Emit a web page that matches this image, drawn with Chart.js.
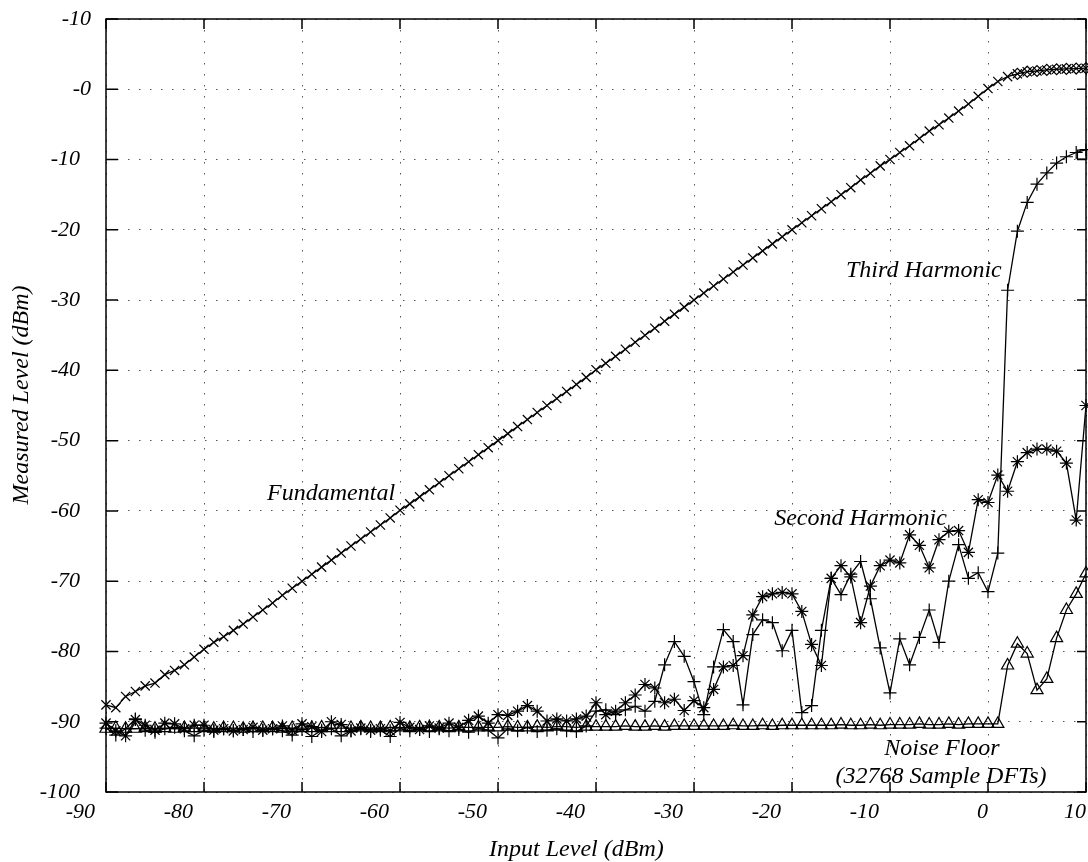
<!DOCTYPE html>
<html>
<head>
<meta charset="utf-8">
<title>Harmonic levels vs input level</title>
<script src="https://cdn.jsdelivr.net/npm/chart.js@4.4.1/dist/chart.umd.min.js"></script>
<style>
  html, body { margin: 0; padding: 0; background: #fff; }
  canvas { display: block; }
</style>
</head>
<body>
<canvas id="chart" width="1088" height="862"></canvas>
<script>
// Input level sweep in 1 dB steps (dBm)
const inputLevels = [
  -90, -89, -88, -87, -86, -85, -84, -83, -82, -81,
  -80, -79, -78, -77, -76, -75, -74, -73, -72, -71,
  -70, -69, -68, -67, -66, -65, -64, -63, -62, -61,
  -60, -59, -58, -57, -56, -55, -54, -53, -52, -51,
  -50, -49, -48, -47, -46, -45, -44, -43, -42, -41,
  -40, -39, -38, -37, -36, -35, -34, -33, -32, -31,
  -30, -29, -28, -27, -26, -25, -24, -23, -22, -21,
  -20, -19, -18, -17, -16, -15, -14, -13, -12, -11,
  -10, -9, -8, -7, -6, -5, -4, -3, -2, -1,
  0, 1, 2, 3, 4, 5, 6, 7, 8, 9,
  10
];

// Measured level of the fundamental (dBm)
const fundamental = [
  -87.6, -88.0, -86.4, -85.7, -84.9, -84.5, -83.3, -82.7, -81.9, -80.8,
  -79.7, -78.7, -77.9, -77.0, -76.1, -75.1, -74.1, -73.1, -72.0, -71.0,
  -70.0, -69.0, -68.0, -67.0, -66.0, -65.0, -64.0, -63.0, -62.0, -61.0,
  -59.9, -59.0, -58.0, -57.0, -56.0, -55.0, -54.0, -53.0, -52.0, -51.0,
  -50.0, -49.0, -48.0, -47.0, -46.0, -45.0, -44.0, -43.0, -42.0, -41.0,
  -39.9, -39.0, -38.0, -37.0, -36.0, -35.0, -34.0, -33.0, -32.0, -31.0,
  -30.0, -29.0, -28.0, -27.0, -26.0, -25.0, -24.0, -23.0, -22.0, -21.0,
  -20.0, -19.0, -18.0, -17.0, -16.0, -15.0, -14.0, -12.9, -11.95, -10.9,
  -10.0, -9.0, -8.05, -7.0, -5.95, -5.05, -4.1, -3.1, -2.1, -1.0,
  0.1, 1.1, 1.8, 2.2, 2.5, 2.6, 2.75, 2.85, 2.9, 2.95,
  3.0
];

// Measured level of the second harmonic (dBm)
const secondHarmonic = [
  -90.2, -91.3, -92.0, -89.7, -90.5, -91.2, -90.2, -90.3, -91.0, -90.5,
  -90.5, -91.2, -91.0, -91.3, -91.1, -90.8, -91.2, -91.0, -90.6, -91.2,
  -90.3, -90.7, -91.4, -90.0, -90.4, -91.3, -90.9, -91.2, -91.0, -91.3,
  -90.1, -90.8, -91.1, -90.6, -90.9, -90.2, -90.8, -89.8, -89.2, -90.2,
  -89.0, -89.1, -88.5, -87.7, -88.5, -89.9, -89.6, -89.9, -89.6, -89.2,
  -87.3, -89.0, -88.5, -87.3, -86.2, -84.7, -85.2, -87.3, -86.8, -88.4,
  -87.0, -88.0, -85.4, -82.2, -82.0, -80.6, -74.8, -72.2, -71.8, -71.6,
  -71.8, -74.3, -79.0, -82.0, -69.6, -67.8, -69.4, -75.9, -70.7, -67.8,
  -67.0, -67.4, -63.4, -64.9, -68.1, -64.1, -62.9, -62.8, -65.9, -58.4,
  -58.8, -54.9, -57.2, -53.0, -51.7, -51.2, -51.2, -51.5, -53.2, -61.3,
  -45.0
];

// Measured level of the third harmonic (dBm)
const thirdHarmonic = [
  -90.9, -91.9, -91.0, -89.6, -91.2, -91.5, -91.0, -90.8, -91.3, -92.0,
  -91.2, -91.4, -91.0, -91.3, -91.1, -91.4, -91.2, -91.0, -91.3, -91.9,
  -91.1, -92.1, -91.2, -91.0, -92.0, -91.3, -91.0, -91.4, -91.2, -92.1,
  -91.0, -91.3, -91.1, -91.4, -91.0, -91.3, -91.1, -91.5, -91.0, -91.2,
  -92.3, -91.0, -91.3, -90.8, -91.4, -91.2, -91.0, -91.3, -91.4, -90.6,
  -88.5, -88.3, -89.0, -88.3, -87.8, -88.5, -87.1, -81.9, -78.6, -80.7,
  -84.3, -89.0, -82.2, -76.9, -78.6, -87.6, -77.6, -75.5, -75.9, -79.9,
  -77.0, -88.7, -87.7, -77.0, -69.6, -71.9, -69.0, -67.2, -72.5, -79.5,
  -85.9, -78.2, -81.9, -78.0, -74.1, -78.7, -70.0, -64.8, -69.6, -68.8,
  -71.5, -66.0, -28.6, -20.2, -16.1, -13.5, -11.9, -10.5, -9.6, -9.0,
  -8.6
];

// Noise floor over the same sweep (dBm)
const noiseFloor = [
  -91.0, -90.9, -91.0, -91.0, -90.9, -91.0, -90.9, -91.0, -90.9, -90.9,
  -90.9, -91.0, -90.9, -90.9, -91.0, -90.9, -90.9, -90.9, -91.0, -90.9,
  -90.9, -90.9, -90.8, -90.9, -90.9, -90.9, -90.8, -90.9, -90.9, -90.8,
  -90.8, -90.9, -90.8, -90.8, -90.8, -90.9, -90.8, -90.8, -90.8, -90.8,
  -90.8, -90.7, -90.8, -90.8, -90.7, -90.8, -90.7, -90.7, -90.8, -90.7,
  -90.7, -90.7, -90.7, -90.6, -90.7, -90.7, -90.6, -90.7, -90.6, -90.6,
  -90.6, -90.6, -90.6, -90.6, -90.5, -90.6, -90.6, -90.5, -90.6, -90.5,
  -90.5, -90.5, -90.5, -90.5, -90.5, -90.4, -90.5, -90.5, -90.4, -90.5,
  -90.4, -90.4, -90.4, -90.3, -90.4, -90.4, -90.3, -90.4, -90.3, -90.3,
  -90.3, -90.3, -82.0, -78.9, -80.3, -85.5, -83.9, -78.1, -74.1, -71.8,
  -68.9
];

// Fundamental readings taken in compression are also flagged with diamonds
const compressionStart = 3;
// Final third-harmonic reading flagged with a box
const thirdHarmonicFinal = { level: 9.6, value: -9.3 };

// Axis tick labels
const xTickLabels = ['-90', '-80', '-70', '-60', '-50', '-40', '-30', '-20', '-10', '0', '10'];
const yTickLabels = ['-100', '-90', '-80', '-70', '-60', '-50', '-40', '-30', '-20', '-10', '-0', '-10'];

// Curve labels placed in data coordinates
const curveLabels = [
  { text: 'Fundamental', x: -60.5, y: -58.5, align: 'right' },
  { text: 'Third Harmonic', x: 1.4, y: -26.65, align: 'right' },
  { text: 'Second Harmonic', x: -4.2, y: -62.0, align: 'right' },
  { text: 'Noise Floor', x: -4.7, y: -94.8, align: 'center' },
  { text: '(32768 Sample DFTs)', x: -4.8, y: -98.7, align: 'center' }
];

const SERIF = '"Liberation Serif", "Times New Roman", serif';
// Negative tick labels sit a little further from their tick
const NEG_GAP = '\u2002';

const toPoints = (values) => inputLevels.map((x, i) => ({ x: x, y: values[i] }));

const seriesStyle = (style, radius) => ({
  borderColor: '#000',
  borderWidth: 1.3,
  pointStyle: style,
  pointRadius: radius,
  pointBorderColor: '#000',
  pointBackgroundColor: 'rgba(0,0,0,0)',
  pointBorderWidth: 1.2,
  pointHoverRadius: radius,
  tension: 0,
  fill: false,
  clip: false
});

const diamondPoints = toPoints(fundamental).filter(p => p.x >= compressionStart);

// Frame with inward ticks on all four sides, plus text labels
const framePlugin = {
  id: 'frame',
  afterDraw(chart) {
    const { ctx, chartArea: a, scales: { x, y } } = chart;
    ctx.save();
    ctx.strokeStyle = '#000';
    ctx.lineWidth = 1.5;
    ctx.strokeRect(a.left, a.top, a.right - a.left, a.bottom - a.top);
    ctx.beginPath();
    x.ticks.forEach(t => {
      const px = x.getPixelForValue(t.value);
      ctx.moveTo(px, a.bottom); ctx.lineTo(px, a.bottom - 10);
      ctx.moveTo(px, a.top); ctx.lineTo(px, a.top + 10);
    });
    y.ticks.forEach(t => {
      const py = y.getPixelForValue(t.value);
      ctx.moveTo(a.left, py); ctx.lineTo(a.left + 12, py);
      ctx.moveTo(a.right, py); ctx.lineTo(a.right - 9, py);
    });
    ctx.stroke();

    ctx.fillStyle = '#000';
    ctx.font = 'italic 24px ' + SERIF;
    ctx.textBaseline = 'alphabetic';
    curveLabels.forEach(l => {
      ctx.textAlign = l.align;
      ctx.fillText(l.text, x.getPixelForValue(l.x), y.getPixelForValue(l.y));
    });

    // Axis titles
    ctx.textAlign = 'center';
    ctx.fillText('Input Level (dBm)', x.getPixelForValue(-42), a.bottom + 64);
    ctx.translate(28, y.getPixelForValue(-43.5));
    ctx.rotate(-Math.PI / 2);
    ctx.fillText('Measured Level (dBm)', 0, 0);
    ctx.restore();
  }
};

const tickFont = { family: SERIF, style: 'italic', size: 22 };

new Chart(document.getElementById('chart'), {
  type: 'line',
  data: {
    datasets: [
      Object.assign({ label: 'Noise Floor', data: toPoints(noiseFloor) }, seriesStyle('triangle', 7)),
      Object.assign({ label: 'Second Harmonic', data: toPoints(secondHarmonic) }, seriesStyle('star', 6.5)),
      Object.assign({ label: 'Third Harmonic', data: toPoints(thirdHarmonic) }, seriesStyle('cross', 6.5)),
      Object.assign({ label: 'Fundamental', data: toPoints(fundamental) }, seriesStyle('crossRot', 6.5)),
      Object.assign({ label: 'Fundamental (compressed)', data: diamondPoints, showLine: false }, seriesStyle('rectRot', 5.5)),
      Object.assign({ label: 'Third Harmonic (final)', data: [{ x: thirdHarmonicFinal.level, y: thirdHarmonicFinal.value }], showLine: false }, seriesStyle('rect', 6.5))
    ]
  },
  options: {
    responsive: false,
    animation: false,
    devicePixelRatio: 1,
    layout: { autoPadding: false, padding: { top: 19, right: 2, left: 0, bottom: 0 } },
    plugins: {
      legend: { display: false },
      tooltip: { enabled: false }
    },
    events: [],
    scales: {
      x: {
        type: 'linear',
        min: -90,
        max: 10,
        ticks: {
          stepSize: 10,
          autoSkip: false,
          maxRotation: 0,
          align: 'end',
          labelOffset: 0,
          padding: 7,
          color: '#000',
          font: tickFont,
          callback: (v) => xTickLabels[Math.round((v + 90) / 10)] + (v < 0 ? NEG_GAP : '')
        },
        grid: { color: '#555', lineWidth: 1, drawTicks: false },
        border: { display: false, dash: [1.5, 9.5] },
        afterFit: (s) => {
          s.height = 70;
          s.paddingLeft = 0; s.paddingRight = 0; s.paddingTop = 0; s.paddingBottom = 0;
        }
      },
      y: {
        type: 'linear',
        min: -100,
        max: 10,
        ticks: {
          stepSize: 10,
          autoSkip: false,
          padding: 15,
          color: '#000',
          font: tickFont,
          callback: (v) => yTickLabels[Math.round((v + 100) / 10)] + (v < 0 ? NEG_GAP : '')
        },
        grid: { color: '#555', lineWidth: 1, drawTicks: false },
        border: { display: false, dash: [1.5, 9.5] },
        afterFit: (s) => {
          s.width = 106;
          s.paddingLeft = 0; s.paddingRight = 0; s.paddingTop = 0; s.paddingBottom = 0;
        }
      }
    }
  },
  plugins: [framePlugin]
});
</script>
</body>
</html>
